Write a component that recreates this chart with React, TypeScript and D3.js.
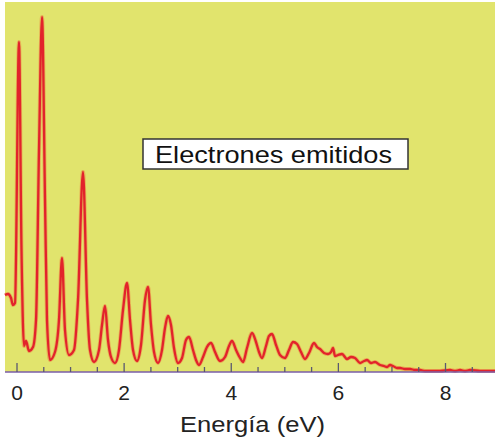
import * as d3 from "d3";

// energía (eV) y cuentas (unidades arbitrarias)
const energy = [
  -0.224, -0.168, -0.112, -0.075, -0.037, 0.037, 0.084, 0.131, 0.168, 0.224,
  0.299, 0.355, 0.411, 0.467, 0.523, 0.56, 0.616, 0.709, 0.784, 0.84, 0.896,
  0.971, 1.064, 1.139, 1.232, 1.307, 1.363, 1.438, 1.531, 1.587, 1.643, 1.699,
  1.755, 1.83, 1.904, 1.979, 2.054, 2.11, 2.166, 2.24, 2.315, 2.39, 2.446,
  2.502, 2.558, 2.633, 2.707, 2.763, 2.819, 2.875, 2.931, 3.006, 3.081, 3.155,
  3.211, 3.286, 3.342, 3.398, 3.473, 3.547, 3.622, 3.697, 3.79, 3.884, 3.958,
  4.014, 4.089, 4.164, 4.22, 4.294, 4.388, 4.462, 4.518, 4.574, 4.649, 4.705,
  4.761, 4.836, 4.91, 5.004, 5.078, 5.153, 5.228, 5.302, 5.377, 5.452, 5.545,
  5.601, 5.657, 5.732, 5.807, 5.863, 5.9, 5.937, 5.993, 6.068, 6.161, 6.236,
  6.311, 6.404, 6.479, 6.535, 6.609, 6.684, 6.777, 6.852, 6.908, 6.964, 7.02,
  7.095, 7.151, 7.244, 7.338, 7.431, 7.524, 7.618, 7.711, 7.898, 8.084, 8.178,
  8.271, 8.364, 8.458, 8.644, 8.924,
];
const counts = [
  77, 78, 74, 67, 69, 330, 122, 26, 31, 21,
  25, 52, 222, 355, 172, 52, 12, 20, 52, 114, 42,
  17, 22, 72, 200, 72, 22, 10, 22, 47, 66, 32,
  15, 9, 22, 62, 89, 52, 22, 11, 27, 72, 85,
  47, 20, 9, 22, 44, 56, 47, 24, 9, 14, 32,
  35, 22, 12, 7, 15, 25, 29, 20, 11, 15, 26,
  31, 22, 14, 10, 24, 39, 30, 20, 14, 26, 36,
  38, 27, 17, 14, 22, 30, 28, 20, 13, 19, 29,
  25, 23, 19, 18, 20, 24, 16, 17, 18, 13, 15,
  14, 9, 11, 12, 9, 10, 7, 6, 5, 7, 6,
  4, 4, 3, 3, 2, 2, 1, 1, 1, 2, 1,
  2, 1, 2, 1, 1,
];
const majorTicks = [0, 2, 4, 6, 8];
const minorTicks = d3.range(0, 9, 0.5).filter((t) => t % 2 !== 0);
const label = "Electrones emitidos";
const xTitle = "Energía (eV)";

const W = 495;
const H = 441;
const left = 5;
const right = 495;
const top = 2;
const bottom = 372;

export default function App() {
  const x = d3.scaleLinear().domain([-0.224, 8.924]).range([left, right]);
  const y = d3.scaleLinear().domain([0, 370]).range([bottom, top]);

  const pts: [number, number][] = energy.map((e, i) => [e, counts[i]]);
  const line = d3
    .line<[number, number]>()
    .x((d) => x(d[0]))
    .y((d) => y(d[1]))
    .curve(d3.curveMonotoneX);

  const font = "'Liberation Sans', Arial, sans-serif";

  return (
    <div style={{ position: "absolute", left: 0, top: 0 }}>
      <svg width={W} height={H} style={{ display: "block", background: "#fff" }}>
        <rect x={left} y={top} width={right - left} height={bottom - top} fill="#e1e46d" />
        <path
          d={line(pts) ?? ""}
          fill="none"
          stroke="#f0703a"
          strokeOpacity={0.45}
          strokeWidth={4}
          strokeLinejoin="round"
        />
        <path
          d={line(pts) ?? ""}
          fill="none"
          stroke="#e2232b"
          strokeWidth={2.3}
          strokeLinejoin="round"
        />
        <line x1={left} x2={right} y1={bottom} y2={bottom} stroke="#7a5ea8" strokeWidth={1.5} />
        {majorTicks.map((t) => (
          <line key={"M" + t} x1={x(t)} x2={x(t)} y1={bottom} y2={bottom - 9} stroke="#5a5870" strokeWidth={1.3} />
        ))}
        {minorTicks.map((t) => (
          <line key={"m" + t} x1={x(t)} x2={x(t)} y1={bottom} y2={bottom - 5} stroke="#5a5870" strokeWidth={1.3} />
        ))}
        {majorTicks.map((t) => (
          <text
            key={"l" + t}
            x={x(t)}
            y={400}
            textAnchor="middle"
            fontFamily={font}
            fontSize={21}
            fill="#222"
          >
            {t}
          </text>
        ))}
        <text
          x={180}
          y={432}
          fontFamily={font}
          fontSize={22}
          fill="#222"
          textLength={145}
          lengthAdjust="spacingAndGlyphs"
        >
          {xTitle}
        </text>
        <rect x={143} y={139} width={265} height={30} fill="#fff" stroke="#333" strokeWidth={1.5} />
        <text
          x={155}
          y={163}
          fontFamily={font}
          fontSize={24}
          fill="#111"
          textLength={237}
          lengthAdjust="spacingAndGlyphs"
        >
          {label}
        </text>
      </svg>
    </div>
  );
}
